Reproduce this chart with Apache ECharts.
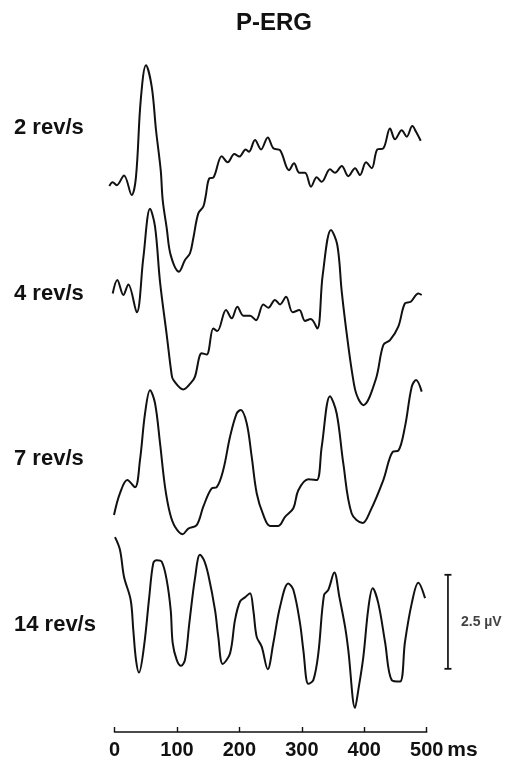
<!DOCTYPE html>
<html>
<head>
<meta charset="utf-8">
<script src="https://cdn.jsdelivr.net/npm/echarts@6/dist/echarts.min.js"></script>
<style>
html,body{margin:0;padding:0;background:#fff;}
#c{width:517px;height:761px;}
</style>
</head>
<body>
<div id="c"></div>
<script>
// ---- data (time in ms, amplitude in µV relative to each trace's own baseline) ----
const titleText = 'P-ERG';
const traceLabels = ['2 rev/s', '4 rev/s', '7 rev/s', '14 rev/s'];
const xTicks = [0, 100, 200, 300, 400, 500];
const xUnit = 'ms';
const scaleBarValue = 2.5;
const scaleBarLabel = '2.5 µV';

const t2rev = [-8.3,-2.9,3.5,15.2,27.5,34.4,42.0,50.4,59.6,66.5,74.0,77.2,83.6,90.0,103.3,112.9,120.9,126.2,134.2,142.2,145.7,151.8,158.2,171.7,181.3,191.9,199.9,210.1,215.4,225.0,234.6,245.4,254.3,265.1,279.5,287.5,296.0,305.1,314.7,323.8,331.8,345.1,353.1,363.9,374.4,385.2,393.2,402.8,411.9,420.9,430.5,441.2,449.2,460.0,468.0,476.9,482.9,490.4];
const v2rev = [0.02,0.12,0.04,0.30,-0.22,0.26,2.30,3.23,2.66,1.50,0.44,-0.36,-1.10,-1.82,-2.26,-1.95,-1.77,-1.37,-0.71,-0.53,-0.28,0.22,0.24,0.81,0.65,0.87,0.80,0.99,0.93,1.24,0.99,1.31,1.02,0.97,0.44,0.62,0.37,0.37,0.00,0.25,0.13,0.46,0.37,0.55,0.28,0.49,0.31,0.65,0.49,0.99,1.02,1.55,1.26,1.50,1.33,1.61,1.46,1.22];

const t4rev = [-2.9,4.5,14.1,22.1,35.6,46.1,56.9,64.9,72.9,83.6,91.6,94.2,110.2,123.6,128.9,139.7,147.7,158.2,164.6,178.6,187.7,196.7,206.3,217.0,226.6,238.3,246.3,257.0,265.1,274.7,285.4,296.0,305.1,314.2,324.8,333.4,346.7,356.8,363.9,372.8,381.5,387.9,398.5,418.5,430.5,441.2,454.5,465.2,474.4,486.5,492.0];
const v4rev = [-0.09,0.27,-0.13,0.15,-0.59,0.85,2.16,1.69,0.22,-1.19,-2.26,-2.39,-2.64,-2.44,-2.30,-1.68,-1.71,-1.02,-1.09,-0.53,-0.75,-0.44,-0.68,-0.68,-0.80,-0.38,-0.47,-0.26,-0.38,-0.18,-0.59,-0.53,-0.82,-0.77,-1.02,0.40,1.60,1.20,-0.04,-1.28,-2.30,-2.79,-3.06,-2.37,-1.46,-1.33,-0.97,-0.35,-0.31,-0.09,-0.13];

const t7rev = [-0.8,8.8,20.5,32.8,40.8,48.9,56.9,64.9,72.9,80.9,88.9,96.9,109.2,118.2,131.6,142.2,155.7,163.7,174.2,185.0,195.7,202.1,211.7,219.7,227.7,238.3,249.0,262.3,273.1,286.4,294.4,310.4,323.8,331.8,345.1,355.8,366.4,379.8,397.4,409.2,430.5,445.5,454.5,465.2,476.0,482.9,492.0];
const v7rev = [0.02,0.60,0.95,0.76,1.48,2.72,3.34,2.99,1.93,0.77,0.06,-0.29,-0.49,-0.34,-0.25,0.24,0.73,0.76,1.22,2.10,2.72,2.81,2.46,1.57,0.60,0.02,-0.27,-0.27,-0.03,0.20,0.68,0.97,0.95,1.83,3.18,2.72,1.39,0.06,-0.19,0.11,0.95,1.70,1.73,2.37,3.43,3.61,3.30];

const t14rev = [0.8,8.8,15.2,25.9,30.1,34.4,39.2,47.2,55.7,62.1,67.6,75.6,83.6,90.0,93.2,99.6,106.5,112.9,119.8,128.9,136.9,143.3,150.2,161.0,166.2,173.3,185.0,193.0,201.0,209.0,217.0,222.3,227.7,235.7,245.4,254.3,265.1,278.3,286.4,297.1,302.4,310.4,318.4,326.4,335.5,342.4,352.0,360.0,369.2,374.4,385.2,390.5,398.5,406.5,413.5,422.5,433.2,444.0,457.2,465.2,476.0,486.5,497.3];
const v14rev = [2.18,1.84,1.13,0.51,-0.29,-1.08,-1.42,-0.73,0.60,1.49,1.57,1.53,1.04,0.24,-0.64,-1.08,-1.24,-1.08,-0.11,1.09,1.71,1.57,1.18,0.24,-0.47,-1.19,-0.91,-0.02,0.47,0.58,0.69,0.24,-0.47,-0.73,-1.33,-0.64,0.33,0.95,0.78,-0.11,-0.82,-1.72,-1.62,-0.91,0.64,0.78,1.24,0.60,-0.20,-0.82,-2.36,-1.88,-1.00,0.29,0.82,0.42,-0.60,-1.62,-1.66,-0.60,0.42,0.97,0.56];

// ---- layout (display only) ----
const traceTimes = [t2rev, t4rev, t7rev, t14rev];
const traceValues = [v2rev, v4rev, v7rev, v14rev];
const baselineOffsets = [14.5, 11.75, 5.75, 3.0];   // vertical stacking of the traces, in µV
const labelY = [128, 294, 459, 625];
const scaleBarX = 534;
const scaleBarBottom = 1.68;

const chart = echarts.init(document.getElementById('c'), null, {renderer: 'canvas'});
const FONT = '"Liberation Sans", Arial, Helvetica, sans-serif';

const series = traceTimes.map((ts, i) => ({
  type: 'line',
  name: traceLabels[i],
  xAxisIndex: 0, yAxisIndex: 0,
  data: ts.map((t, j) => [t, traceValues[i][j] + baselineOffsets[i]]),
  showSymbol: false,
  smooth: 0.35,
  lineStyle: {color: '#111', width: 2},
  silent: true,
  z: 3
}));

// scale bar
series.push({
  type: 'line',
  xAxisIndex: 0, yAxisIndex: 0,
  data: [[scaleBarX, scaleBarBottom], [scaleBarX, scaleBarBottom + scaleBarValue]],
  showSymbol: true,
  symbol: 'rect',
  symbolSize: [7, 1.8],
  itemStyle: {color: '#111'},
  lineStyle: {color: '#111', width: 1.7},
  silent: true
});
series.push({
  type: 'scatter',
  xAxisIndex: 0, yAxisIndex: 0,
  data: [[scaleBarX, scaleBarBottom + scaleBarValue / 2]],
  symbolSize: 0,
  label: {show: true, position: 'right', distance: 13, formatter: scaleBarLabel,
          color: '#111', fontSize: 14, fontWeight: 'bold', fontFamily: FONT},
  silent: true
});

const option = {
  backgroundColor: '#fff',
  animation: false,
  title: {
    text: titleText,
    left: 274, top: 11, textAlign: 'center', padding: 0,
    textStyle: {fontSize: 24, fontWeight: 'bold', color: '#111', fontFamily: FONT}
  },
  grid: [
    {left: 108.26, top: 40, width: 343.44, height: 692},
    {left: 114.5, top: 700, width: 312.2, height: 32.5}
  ],
  xAxis: [
    {gridIndex: 0, type: 'value', min: -10, max: 540, show: false},
    {gridIndex: 1, type: 'value', min: 0, max: 500, interval: 100,
     name: xUnit, nameLocation: 'end', nameGap: 18,
     nameTextStyle: {fontSize: 21, fontWeight: 'bold', color: '#111', fontFamily: FONT, verticalAlign: 'top', padding: [8, 0, 0, 0]},
     axisLine: {show: true, onZero: false, lineStyle: {color: '#111', width: 1.6}},
     axisTick: {show: true, inside: true, length: 5, lineStyle: {color: '#111', width: 1.4}},
     axisLabel: {show: true, margin: 8, fontSize: 20, fontWeight: 'bold', color: '#111', fontFamily: FONT,
                 formatter: v => (xTicks.indexOf(v) >= 0 ? String(v) : '')},
     splitLine: {show: false}}
  ],
  yAxis: [
    {gridIndex: 0, type: 'value', min: 0, max: 18.4, show: false},
    {gridIndex: 1, type: 'value', min: 0, max: 1, show: false}
  ],
  graphic: traceLabels.map((txt, i) => ({
    type: 'text', x: 14, y: labelY[i], silent: true,
    style: {text: txt, fill: '#111', font: 'bold 22px ' + FONT, verticalAlign: 'middle', align: 'left'}
  })),
  series: series
};
chart.setOption(option);
</script>
</body>
</html>
